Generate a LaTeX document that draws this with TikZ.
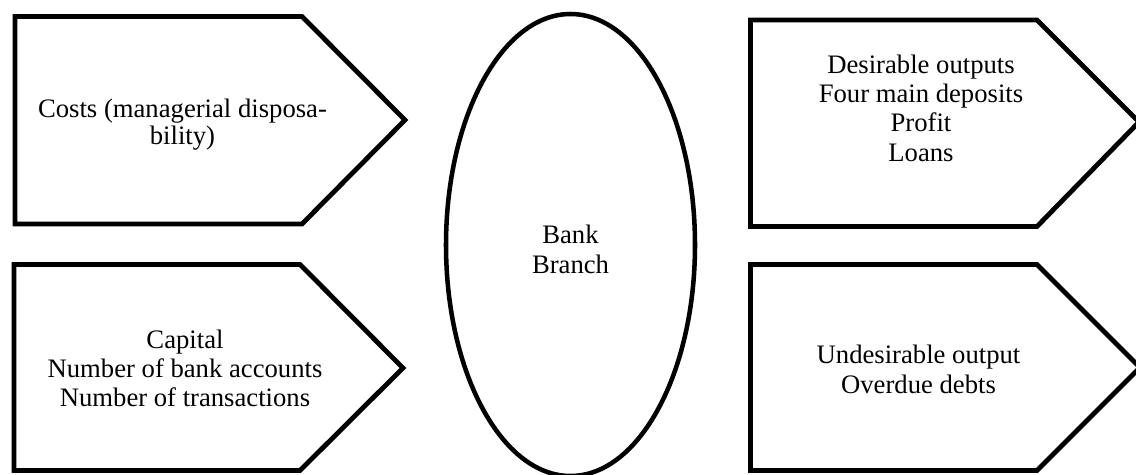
\documentclass[tikz,border=0pt]{standalone}
\usepackage{fontspec}
\setmainfont{Liberation Serif}
\usetikzlibrary{shapes.geometric}
\begin{document}
\begin{tikzpicture}[x=0.75pt,y=-0.75pt,
  pentbox/.style={draw=black, line width=3.6pt, line join=miter},
  lbl/.style={inner sep=0pt, align=center, font=\fontsize{20}{22}\selectfont},
  oval/.style={draw=black, line width=3.4pt, ellipse, minimum width=186.75pt, minimum height=346.5pt, inner sep=0pt, align=center, font=\fontsize{20}{22.5}\selectfont}]
\useasboundingbox (0,0) rectangle (1136,475);
% left shapes
\draw[pentbox] (15,16.5) -- (302,16.5) -- (405,120) -- (302,224) -- (15,224) -- cycle;
\draw[pentbox] (14,264.5) -- (300,264.5) -- (403,368) -- (300,470.5) -- (14,470.5) -- cycle;
% right shapes
\draw[pentbox] (750.5,20) -- (1037,20) -- (1139,122) -- (1037,226.5) -- (750.5,226.5) -- cycle;
\draw[pentbox] (750.5,264.5) -- (1037,264.5) -- (1140,367.5) -- (1037,470.5) -- (750.5,470.5) -- cycle;
% centre
\node[oval] (branch) at (570.5,245) {};
\node[lbl, font=\fontsize{20}{22.5}\selectfont] (branchtext) at (570.5,249) {Bank\\Branch};
% texts
\node[lbl, font=\fontsize{20}{20}\selectfont] (costs) at (182.5,124.5) {Costs (managerial disposa-\\bility)};
\node[lbl] (inputs) at (185,368.5) {Capital\\Number of bank accounts\\Number of transactions};
\node[lbl] (good) at (921,108) {Desirable outputs\\Four main deposits\\Profit\\Loans};
\node[lbl] (bad) at (918.5,369.5) {Undesirable output\\Overdue debts};
\end{tikzpicture}
\end{document}
